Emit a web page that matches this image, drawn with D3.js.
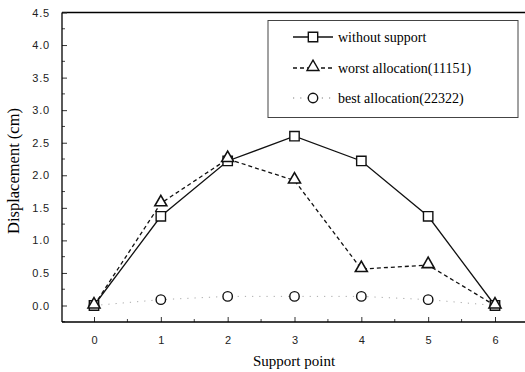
<!DOCTYPE html>
<html><head><meta charset="utf-8">
<script src="https://cdn.jsdelivr.net/npm/d3@7"></script>
<style>body{margin:0;background:#fff}svg{display:block}</style>
</head><body>
<svg id="c" width="525" height="372"></svg>
<script>
const supportPoints = [0, 1, 2, 3, 4, 5, 6];
const withoutSupport = [0, 1.37, 2.22, 2.60, 2.22, 1.37, 0];
const worstAllocation = [0, 1.57, 2.25, 1.92, 0.56, 0.62, 0];
const bestAllocation = [0, 0.09, 0.14, 0.14, 0.14, 0.09, 0];
const yTicks = [0, 0.5, 1.0, 1.5, 2.0, 2.5, 3.0, 3.5, 4.0, 4.5];
const xTicks = [0, 1, 2, 3, 4, 5, 6];
const legendLabels = ["without support", "worst allocation(11151)", "best allocation(22322)"];

const svg = d3.select("#c");
const x = d3.scaleLinear().domain([0, 6]).range([94, 495]);
const y = d3.scaleLinear().domain([0, 4.5]).range([305.5, 12.5]);
const pLeft = 62, pTop = 12.5, pBottom = 322, pRight = 530;

// frame
svg.append("line").attr("x1", pLeft).attr("x2", pRight).attr("y1", pTop).attr("y2", pTop).attr("stroke", "#000").attr("stroke-width", 1.3);

// y axis
const yAxis = d3.axisLeft(y).tickValues(yTicks).tickFormat(d3.format(".1f")).tickSize(-5).tickPadding(12);
const gy = svg.append("g").attr("transform", `translate(${pLeft},0)`).call(yAxis);
gy.select(".domain").remove();
gy.selectAll("text").attr("font-family", "Liberation Sans, Arial, sans-serif").attr("font-size", 11)
  .attr("letter-spacing", 0.8).attr("fill", "#222");
gy.selectAll(".tick line").attr("stroke", "#333");
const yMinor = d3.range(-0.25, 4.5, 0.25).filter(v => Math.abs(v * 2 - Math.round(v * 2)) > 0.01);
svg.append("g").selectAll("line").data(yMinor).join("line")
  .attr("x1", pLeft).attr("x2", pLeft + 3).attr("y1", d => y(d)).attr("y2", d => y(d)).attr("stroke", "#444");
svg.append("line").attr("x1", pLeft).attr("x2", pLeft).attr("y1", pTop).attr("y2", pBottom).attr("stroke", "#000").attr("stroke-width", 1.3);

// x axis
const xAxis = d3.axisBottom(x).tickValues(xTicks).tickFormat(d3.format("d")).tickSize(-5).tickPadding(14);
const gx = svg.append("g").attr("transform", `translate(0,${pBottom})`).call(xAxis);
gx.select(".domain").remove();
gx.selectAll("text").attr("font-family", "Liberation Sans, Arial, sans-serif").attr("font-size", 11).attr("fill", "#222");
gx.selectAll(".tick line").attr("stroke", "#333");
svg.append("g").selectAll("line").data([0.5, 1.5, 2.5, 3.5, 4.5, 5.5]).join("line")
  .attr("x1", d => x(d)).attr("x2", d => x(d)).attr("y1", pBottom).attr("y2", pBottom - 3).attr("stroke", "#444");
svg.append("line").attr("x1", pLeft).attr("x2", pRight).attr("y1", pBottom).attr("y2", pBottom).attr("stroke", "#000").attr("stroke-width", 1.3);

// titles
svg.append("text").attr("x", 294).attr("y", 366).attr("text-anchor", "middle")
  .attr("font-family", "Liberation Serif, Times New Roman, serif").attr("font-size", 15).text("Support point");
svg.append("text").attr("transform", "translate(19,171) rotate(-90)").attr("text-anchor", "middle")
  .attr("font-family", "Liberation Serif, Times New Roman, serif").attr("font-size", 16.5).text("Displacement (cm)");

// lines
const line = d3.line().x((d, i) => x(supportPoints[i])).y(d => y(d));
svg.append("path").datum(bestAllocation).attr("d", line).attr("fill", "none").attr("stroke", "#aaa").attr("stroke-width", 1).attr("stroke-dasharray", "1.2,6");
svg.append("path").datum(withoutSupport).attr("d", line).attr("fill", "none").attr("stroke", "#111").attr("stroke-width", 1.3);
svg.append("path").datum(worstAllocation).attr("d", line).attr("fill", "none").attr("stroke", "#111").attr("stroke-width", 1.3).attr("stroke-dasharray", "4,3");

const sq = d3.symbol().type(d3.symbolSquare).size(88);
const tri = d3.symbol().type(d3.symbolTriangle).size(62);
const cir = d3.symbol().type(d3.symbolCircle).size(70);

svg.append("g").selectAll("path").data(bestAllocation).join("path")
  .attr("d", cir).attr("transform", (d, i) => `translate(${x(supportPoints[i])},${y(d)})`)
  .attr("fill", "#fff").attr("stroke", "#111").attr("stroke-width", 1.4);
svg.append("g").selectAll("path").data(withoutSupport).join("path")
  .attr("d", sq).attr("transform", (d, i) => `translate(${x(supportPoints[i])},${y(d)})`)
  .attr("fill", "#fff").attr("stroke", "#111").attr("stroke-width", 1.4);
svg.append("g").selectAll("path").data(worstAllocation).join("path")
  .attr("d", tri).attr("transform", (d, i) => `translate(${x(supportPoints[i])},${y(d) - 1})`)
  .attr("fill", "#fff").attr("stroke", "#111").attr("stroke-width", 1.6);

// legend
const lg = svg.append("g");
lg.append("rect").attr("x", 268).attr("y", 20.5).attr("width", 250).attr("height", 97)
  .attr("fill", "#fff").attr("stroke", "#444").attr("stroke-width", 1);
const rows = [37, 68, 98];
const styles = [
  {dash: null, color: "#111", sym: sq},
  {dash: "4,3", color: "#111", sym: tri},
  {dash: "1.2,6", color: "#aaa", sym: cir}
];
rows.forEach((ry, i) => {
  const s = styles[i];
  const l = lg.append("line").attr("x1", 293).attr("x2", 333).attr("y1", ry).attr("y2", ry)
    .attr("stroke", s.color).attr("stroke-width", 1.3);
  if (s.dash) l.attr("stroke-dasharray", s.dash);
  lg.append("path").attr("d", s.sym).attr("transform", `translate(313,${i === 1 ? ry - 1 : ry})`)
    .attr("fill", "#fff").attr("stroke", "#111").attr("stroke-width", 1.4);
  lg.append("text").attr("x", 338).attr("y", ry + 4.5)
    .attr("font-family", "Liberation Serif, Times New Roman, serif").attr("font-size", 14).text(legendLabels[i]);
});
</script>
</body></html>
